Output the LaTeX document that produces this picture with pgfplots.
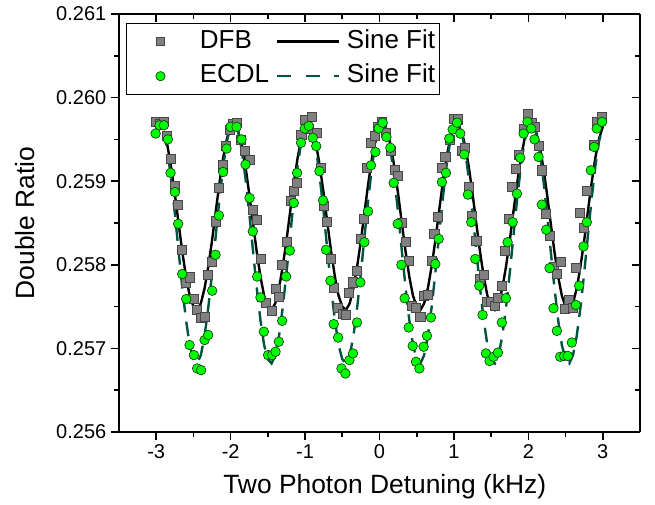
\documentclass[border=0pt]{standalone}
\usepackage{pgfplots}
\pgfplotsset{compat=1.18}
\usepackage{pgfplotstable}
\usepackage{fontspec}
\setmainfont{Liberation Sans}
\usetikzlibrary{calc}
\definecolor{sqfill}{RGB}{128,128,128}
\definecolor{sqedge}{RGB}{70,70,70}
\definecolor{cifill}{RGB}{0,255,0}
\definecolor{ciedge}{RGB}{20,60,20}
\definecolor{fitgreen}{RGB}{0,85,64}

\pgfplotstableread{
x y
-3.008 0.25971
-2.950 0.25968
-2.897 0.25971
-2.852 0.25954
-2.799 0.25927
-2.749 0.25894
-2.705 0.25872
-2.651 0.25818
-2.597 0.25779
-2.552 0.25785
-2.494 0.25759
-2.450 0.25746
-2.404 0.25737
-2.350 0.25738
-2.306 0.25788
-2.248 0.25803
-2.203 0.25852
-2.158 0.25892
-2.101 0.25919
-2.060 0.25942
-2.010 0.25962
-1.966 0.25969
-1.913 0.25970
-1.860 0.25950
-1.809 0.25936
-1.746 0.25926
-1.702 0.25866
-1.644 0.25854
-1.599 0.25807
-1.532 0.25755
-1.451 0.25745
-1.397 0.25771
-1.353 0.25762
-1.308 0.25800
-1.250 0.25827
-1.196 0.25877
-1.152 0.25888
-1.107 0.25898
-1.050 0.25955
-1.004 0.25973
-0.950 0.25963
-0.906 0.25977
-0.839 0.25958
-0.793 0.25916
-0.749 0.25870
-0.713 0.25851
-0.651 0.25807
-0.615 0.25773
-0.556 0.25748
-0.494 0.25741
-0.449 0.25740
-0.413 0.25767
-0.360 0.25779
-0.310 0.25793
-0.257 0.25831
-0.212 0.25855
-0.168 0.25916
-0.114 0.25946
-0.064 0.25954
-0.020 0.25965
0.034 0.25971
0.090 0.25958
0.146 0.25936
0.204 0.25914
0.249 0.25906
0.302 0.25850
0.348 0.25827
0.392 0.25805
0.438 0.25751
0.490 0.25749
0.549 0.25738
0.593 0.25763
0.647 0.25764
0.705 0.25805
0.737 0.25837
0.785 0.25857
0.839 0.25916
0.884 0.25929
0.940 0.25950
0.996 0.25975
1.054 0.25974
1.107 0.25936
1.152 0.25940
1.197 0.25893
1.242 0.25859
1.301 0.25829
1.354 0.25783
1.399 0.25788
1.443 0.25756
1.497 0.25756
1.546 0.25751
1.591 0.25760
1.644 0.25775
1.690 0.25817
1.735 0.25855
1.779 0.25893
1.830 0.25915
1.878 0.25932
1.936 0.25963
1.993 0.25981
2.040 0.25970
2.093 0.25965
2.146 0.25942
2.181 0.25913
2.240 0.25861
2.294 0.25835
2.338 0.25798
2.383 0.25789
2.436 0.25803
2.486 0.25747
2.540 0.25758
2.593 0.25748
2.638 0.25796
2.687 0.25862
2.741 0.25844
2.785 0.25889
2.879 0.25943
2.923 0.25971
2.990 0.25977
}\dfb

\pgfplotstableread{
x y
-3.008 0.25957
-2.955 0.25967
-2.897 0.25967
-2.843 0.25950
-2.807 0.25910
-2.749 0.25887
-2.705 0.25849
-2.651 0.25789
-2.597 0.25759
-2.552 0.25704
-2.494 0.25692
-2.450 0.25676
-2.396 0.25674
-2.350 0.25710
-2.302 0.25716
-2.248 0.25769
-2.203 0.25812
-2.158 0.25859
-2.101 0.25911
-2.055 0.25939
-2.001 0.25965
-1.920 0.25965
-1.854 0.25950
-1.800 0.25920
-1.746 0.25880
-1.702 0.25840
-1.644 0.25786
-1.599 0.25761
-1.554 0.25720
-1.497 0.25692
-1.443 0.25692
-1.397 0.25696
-1.353 0.25708
-1.308 0.25733
-1.255 0.25786
-1.205 0.25817
-1.152 0.25874
-1.107 0.25910
-1.054 0.25946
-1.004 0.25963
-0.950 0.25966
-0.897 0.25952
-0.850 0.25942
-0.807 0.25912
-0.758 0.25877
-0.718 0.25818
-0.659 0.25781
-0.615 0.25729
-0.556 0.25713
-0.511 0.25676
-0.458 0.25670
-0.404 0.25686
-0.356 0.25694
-0.302 0.25731
-0.257 0.25779
-0.203 0.25827
-0.154 0.25864
-0.114 0.25919
-0.055 0.25935
-0.011 0.25963
0.043 0.25970
0.093 0.25953
0.146 0.25940
0.190 0.25898
0.244 0.25849
0.294 0.25800
0.338 0.25760
0.392 0.25725
0.446 0.25703
0.490 0.25684
0.536 0.25676
0.593 0.25702
0.638 0.25715
0.691 0.25737
0.750 0.25801
0.795 0.25831
0.839 0.25899
0.893 0.25910
0.938 0.25951
0.983 0.25962
1.041 0.25970
1.086 0.25957
1.139 0.25932
1.188 0.25884
1.233 0.25851
1.287 0.25807
1.341 0.25775
1.385 0.25740
1.430 0.25694
1.479 0.25685
1.533 0.25690
1.591 0.25695
1.644 0.25731
1.698 0.25760
1.721 0.25827
1.789 0.25851
1.846 0.25885
1.891 0.25928
1.936 0.25957
1.989 0.25971
2.039 0.25963
2.083 0.25950
2.137 0.25929
2.181 0.25872
2.240 0.25842
2.285 0.25796
2.338 0.25748
2.383 0.25721
2.428 0.25690
2.482 0.25691
2.530 0.25691
2.584 0.25707
2.638 0.25752
2.683 0.25775
2.741 0.25822
2.785 0.25851
2.839 0.25913
2.884 0.25941
2.919 0.25963
2.990 0.25971
}\ecdl

\pgfplotstableread{
x dfb ecdl
-2.90 0.25960 0.25960
-2.85 0.25943 0.25937
-2.80 0.25917 0.25903
-2.75 0.25885 0.25862
-2.70 0.25850 0.25817
-2.65 0.25816 0.25773
-2.60 0.25786 0.25734
-2.55 0.25763 0.25704
-2.50 0.25750 0.25687
-2.45 0.25746 0.25682
-2.40 0.25754 0.25692
-2.35 0.25772 0.25715
-2.30 0.25798 0.25749
-2.25 0.25829 0.25790
-2.20 0.25864 0.25835
-2.15 0.25898 0.25879
-2.10 0.25928 0.25918
-2.05 0.25951 0.25948
-2.00 0.25965 0.25966
-1.95 0.25968 0.25970
-1.90 0.25960 0.25960
-1.85 0.25943 0.25937
-1.80 0.25917 0.25903
-1.75 0.25885 0.25862
-1.70 0.25850 0.25817
-1.65 0.25816 0.25773
-1.60 0.25786 0.25734
-1.55 0.25763 0.25704
-1.50 0.25750 0.25687
-1.45 0.25746 0.25682
-1.40 0.25754 0.25692
-1.35 0.25772 0.25715
-1.30 0.25798 0.25749
-1.25 0.25829 0.25790
-1.20 0.25864 0.25835
-1.15 0.25898 0.25879
-1.10 0.25928 0.25918
-1.05 0.25951 0.25948
-1.00 0.25965 0.25966
-0.95 0.25968 0.25970
-0.90 0.25960 0.25960
-0.85 0.25943 0.25937
-0.80 0.25917 0.25903
-0.75 0.25885 0.25862
-0.70 0.25850 0.25817
-0.65 0.25816 0.25773
-0.60 0.25786 0.25734
-0.55 0.25763 0.25704
-0.50 0.25750 0.25687
-0.45 0.25746 0.25682
-0.40 0.25754 0.25692
-0.35 0.25772 0.25715
-0.30 0.25798 0.25749
-0.25 0.25829 0.25790
-0.20 0.25864 0.25835
-0.15 0.25898 0.25879
-0.10 0.25928 0.25918
-0.05 0.25951 0.25948
0.00 0.25965 0.25966
0.05 0.25968 0.25970
0.10 0.25960 0.25960
0.15 0.25943 0.25937
0.20 0.25917 0.25903
0.25 0.25885 0.25862
0.30 0.25850 0.25817
0.35 0.25816 0.25773
0.40 0.25786 0.25734
0.45 0.25763 0.25704
0.50 0.25750 0.25687
0.55 0.25746 0.25682
0.60 0.25754 0.25692
0.65 0.25772 0.25715
0.70 0.25798 0.25749
0.75 0.25829 0.25790
0.80 0.25864 0.25835
0.85 0.25898 0.25879
0.90 0.25928 0.25918
0.95 0.25951 0.25948
1.00 0.25965 0.25966
1.05 0.25968 0.25970
1.10 0.25960 0.25960
1.15 0.25943 0.25937
1.20 0.25917 0.25903
1.25 0.25885 0.25862
1.30 0.25850 0.25817
1.35 0.25816 0.25773
1.40 0.25786 0.25734
1.45 0.25763 0.25704
1.50 0.25750 0.25687
1.55 0.25746 0.25682
1.60 0.25754 0.25692
1.65 0.25772 0.25715
1.70 0.25798 0.25749
1.75 0.25829 0.25790
1.80 0.25864 0.25835
1.85 0.25898 0.25879
1.90 0.25928 0.25918
1.95 0.25951 0.25948
2.00 0.25965 0.25966
2.05 0.25968 0.25970
2.10 0.25960 0.25960
2.15 0.25943 0.25937
2.20 0.25917 0.25903
2.25 0.25885 0.25862
2.30 0.25850 0.25817
2.35 0.25816 0.25773
2.40 0.25786 0.25734
2.45 0.25763 0.25704
2.50 0.25750 0.25687
2.55 0.25746 0.25682
2.60 0.25754 0.25692
2.65 0.25772 0.25715
2.70 0.25798 0.25749
2.75 0.25829 0.25790
2.80 0.25864 0.25835
2.85 0.25898 0.25879
2.90 0.25928 0.25918
2.95 0.25951 0.25948
3.00 0.25965 0.25966
}\fits

\pgfplotsset{
  commonax/.style={
    scale only axis, width=390.75pt, height=313.5pt,
    xmin=-3.5, xmax=3.5, ymin=0.256, ymax=0.261,
    xtick={-3,-2,-1,0,1,2,3},
    ytick={0.256,0.257,0.258,0.259,0.260,0.261},
    minor x tick num=1, minor y tick num=1,
    major tick length=6pt, minor tick length=3.5pt,
    axis line style={line width=1.5pt, black},
    every tick/.style={black, line width=1.2pt},
    scaled y ticks=false,
  }
}

\begin{document}
\begin{tikzpicture}
\begin{axis}[commonax,
  axis x line*=top, axis y line*=right, tick align=inside,
  xticklabels={}, yticklabels={}]
\end{axis}
\begin{axis}[commonax, name=ax,
  axis x line*=bottom, axis y line*=left, tick align=outside,
  /pgf/number format/assume math mode=true,
  yticklabel style={/pgf/number format/.cd, fixed, fixed zerofill, precision=3},
  ticklabel style={font=\fontsize{15}{18}\selectfont},
  xlabel={Two Photon Detuning (kHz)},
  ylabel={Double Ratio},
  every axis y label/.style={at={(axis description cs:-0.180,0.5)}, rotate=90, anchor=center, font=\fontsize{19.8}{24}\selectfont},
  every axis x label/.style={at={(axis description cs:0.51,-0.131)}, anchor=center, font=\fontsize{19.8}{24}\selectfont},
  legend columns=2,
  legend cell align=left,
  legend style={at={(axis description cs:0.0134,0.9785)}, anchor=north west,
    draw=black, line width=0.8pt, font=\fontsize{19.5}{23}\selectfont,
    inner xsep=3pt, inner ysep=2.5pt, row sep=4pt, column sep=5pt,
    nodes={inner xsep=0pt, inner ysep=2pt, text height=14pt, text depth=4pt}},
  clip=false,
]
\addlegendimage{legend image code/.code={
  \path[draw=none, fill=none] (0pt,-2pt) rectangle (47pt,2pt);
  \path[draw=sqedge, fill=sqfill, line width=0.5pt] plot[mark=square*, mark size=3.0pt, only marks] coordinates {(22.5pt,0pt)};}}
\addlegendentry{DFB}
\addlegendimage{legend image code/.code={
  \draw[black, line width=1.8pt, solid] (0pt,0pt) -- (46.5pt,0pt);}}
\addlegendentry{Sine Fit}
\addlegendimage{legend image code/.code={
  \path[draw=none, fill=none] (0pt,-2pt) rectangle (47pt,2pt);
  \path[draw=ciedge, fill=cifill, line width=0.5pt] plot[mark=*, mark size=3.5pt, only marks] coordinates {(22.5pt,0pt)};}}
\addlegendentry{ECDL}
\addlegendimage{legend image code/.code={
  \draw[fitgreen, line width=1.8pt, dash pattern=on 10.5pt off 11pt] (0pt,0pt) -- (46.5pt,0pt);}}
\addlegendentry{Sine Fit}

\addplot[forget plot, only marks, mark=square*, mark size=3.4pt,
  mark options={draw=sqedge, fill=sqfill, line width=0.5pt}] table[x=x, y=y] {\dfb};
\addplot[forget plot, black, line width=1.8pt, no marks] table[x=x, y=dfb] {\fits};
\addplot[forget plot, fitgreen, line width=1.8pt, no marks, dash pattern=on 11pt off 7pt] table[x=x, y=ecdl] {\fits};
\addplot[forget plot, only marks, mark=*, mark size=3.6pt,
  mark options={draw=ciedge, fill=cifill, line width=0.5pt}] table[x=x, y=y] {\ecdl};
\end{axis}
\path ($(ax.south west)+(-89.25pt,-54pt)$) rectangle ($(ax.north east)+(11.25pt,10.5pt)$);
\end{tikzpicture}
\end{document}
